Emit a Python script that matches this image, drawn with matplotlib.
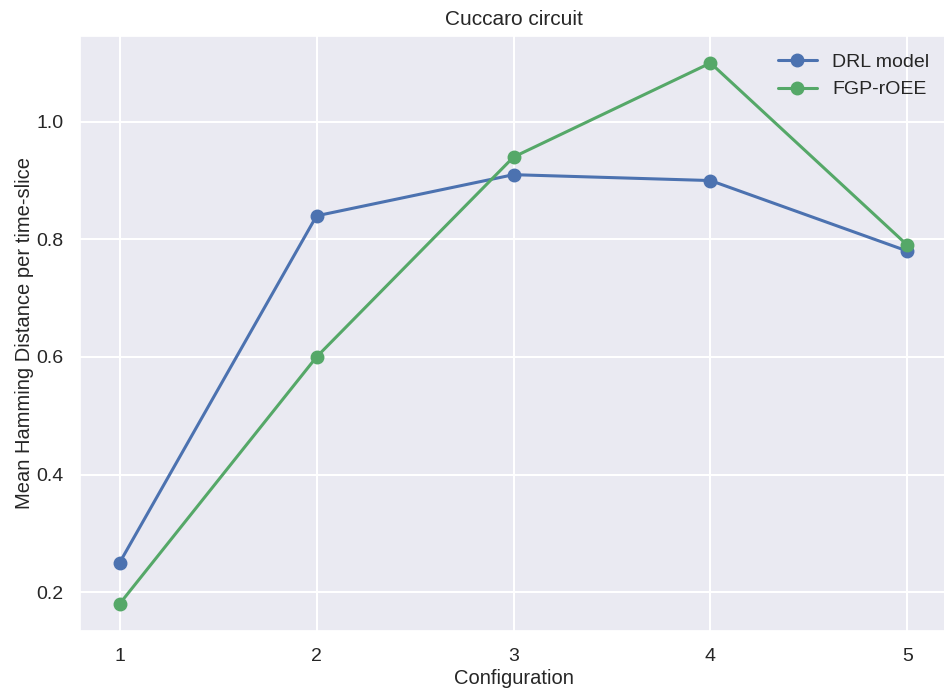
from matplotlib import pyplot as plt
import seaborn as sns

sns.set_theme(style='darkgrid')
plt.rcParams['font.family'] = ['Liberation Sans', 'DejaVu Sans']

configs = [1, 2, 3, 4, 5]
drl_model = [0.25, 0.84, 0.91, 0.90, 0.78]
fgp_roee = [0.18, 0.60, 0.94, 1.10, 0.79]

fig = plt.figure(figsize=(9.44, 6.91), dpi=100)
ax = fig.add_axes([0.085, 0.087, 0.918, 0.861])

ax.plot(configs, drl_model, '-o', color='#4C72B0', lw=2.2, ms=9, label='DRL model')
ax.plot(configs, fgp_roee, '-o', color='#55A868', lw=2.2, ms=9, label='FGP-rOEE')

ax.set_xticks(configs)
ax.set_yticks([0.2, 0.4, 0.6, 0.8, 1.0])
ax.grid(lw=1.5)
ax.tick_params(labelsize=14, colors='#262626', pad=6)
ax.set_title('Cuccaro circuit', fontsize=15, color='#262626', pad=8)
ax.set_xlabel('Configuration', fontsize=14.5, color='#262626', labelpad=3)
ax.set_ylabel('Mean Hamming Distance per time-slice', fontsize=14.5, color='#262626', labelpad=2)
ax.legend(loc='upper right', fontsize=14, frameon=False, bbox_to_anchor=(1.0, 1.0))

fig.savefig('out.png', dpi=100)
